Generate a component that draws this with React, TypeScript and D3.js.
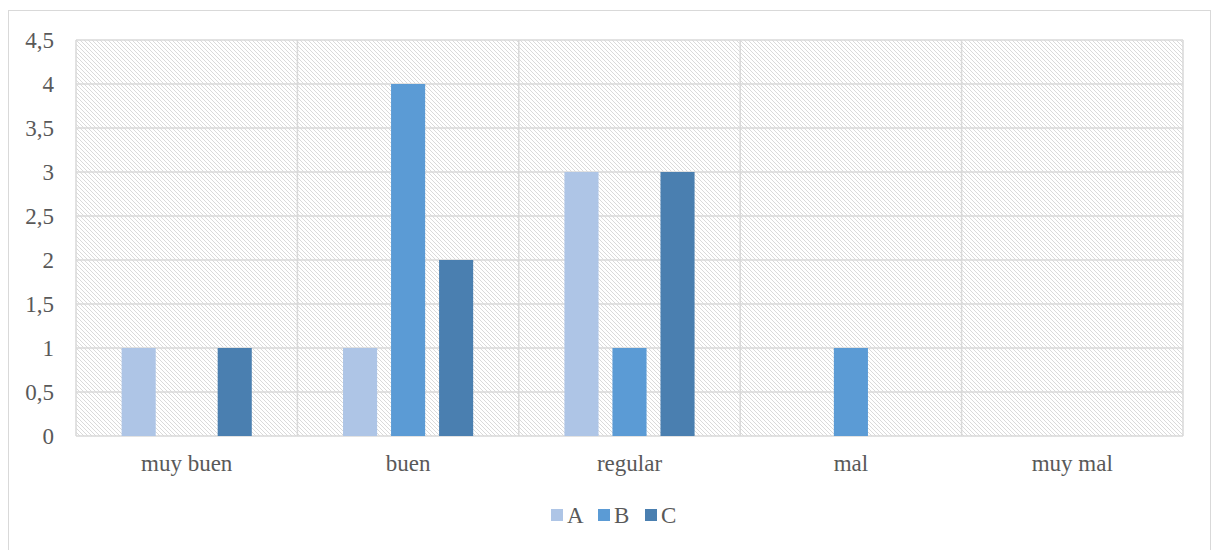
import React from "react";
import * as d3 from "d3";

const categories = ["muy buen", "buen", "regular", "mal", "muy mal"];
const seriesNames = ["A", "B", "C"];
const seriesA = [1, 1, 3, 0, 0];
const seriesB = [0, 4, 1, 1, 0];
const seriesC = [1, 2, 3, 0, 0];
const yTicks = [0, 0.5, 1, 1.5, 2, 2.5, 3, 3.5, 4, 4.5];
const colors = ["#aec5e6", "#5b9bd5", "#4a7fb0"];

export default function App() {
  const W = 1213, H = 550;
  const left = 76, right = 1183, top = 40, bottom = 436;
  const x0 = d3.scaleBand().domain(categories).range([left, right]).paddingInner(0).paddingOuter(0);
  const x1 = d3.scaleBand().domain(seriesNames).range([0, x0.bandwidth()]).paddingInner(0.29).paddingOuter(0.95);
  const y = d3.scaleLinear().domain([0, 4.5]).range([bottom, top]);
  const series = [seriesA, seriesB, seriesC];
  const fmt = (v: number) => String(v).replace(".", ",");
  const textStyle = { fontFamily: '"Liberation Serif", "Times New Roman", serif', fontSize: "23px" } as React.CSSProperties;
  return (
    <svg width={W} height={H} style={{ position: "absolute", left: 0, top: 0 }}>
      <defs>
        <pattern id="hatch" width="4" height="4" patternUnits="userSpaceOnUse">
          <rect width="4" height="4" fill="#ffffff" />
          <path d="M-1,-1 L5,5 M-1,3 L1,5 M3,-1 L5,1" stroke="#dadada" strokeWidth="1" />
        </pattern>
      </defs>
      <rect x={0} y={0} width={W} height={H} fill="#ffffff" />
      <rect x={8.5} y={10.5} width={1202} height={560} fill="#ffffff" stroke="#d9d9d9" strokeWidth={1} />
      <rect x={left} y={top} width={right - left} height={bottom - top} fill="url(#hatch)" />
      {yTicks.map((t) => (
        <line key={"g" + t} x1={left} x2={right} y1={y(t)} y2={y(t)} stroke="#d9d9d9" strokeWidth={1.5} />
      ))}
      {categories.map((c) => (
        <line key={"v" + c} x1={x0(c)!} x2={x0(c)!} y1={top} y2={bottom} stroke="#d9d9d9" strokeWidth={1.5} />
      ))}
      <line x1={right} x2={right} y1={top} y2={bottom} stroke="#d9d9d9" strokeWidth={1.5} />
      {categories.map((c, i) =>
        series.map((s, j) =>
          s[i] > 0 ? (
            <rect
              key={c + j}
              x={x0(c)! + x1(seriesNames[j])!}
              y={y(s[i])}
              width={x1.bandwidth()}
              height={bottom - y(s[i])}
              fill={colors[j]}
            />
          ) : null
        )
      )}
      {yTicks.map((t) => (
        <text key={"t" + t} x={54} y={y(t)} dy="0.35em" textAnchor="end" style={textStyle} fill="#595959">
          {fmt(t)}
        </text>
      ))}
      {categories.map((c) => (
        <text key={"l" + c} x={x0(c)! + x0.bandwidth() / 2} y={471} textAnchor="middle" style={textStyle} fill="#595959">
          {c}
        </text>
      ))}
      {seriesNames.map((n, j) => (
        <g key={"lg" + n} transform={`translate(${551 + j * 47},0)`}>
          <rect x={0} y={509} width={12} height={12} fill={colors[j]} />
          <text x={16} y={523} style={textStyle} fill="#595959">{n}</text>
        </g>
      ))}
    </svg>
  );
}
